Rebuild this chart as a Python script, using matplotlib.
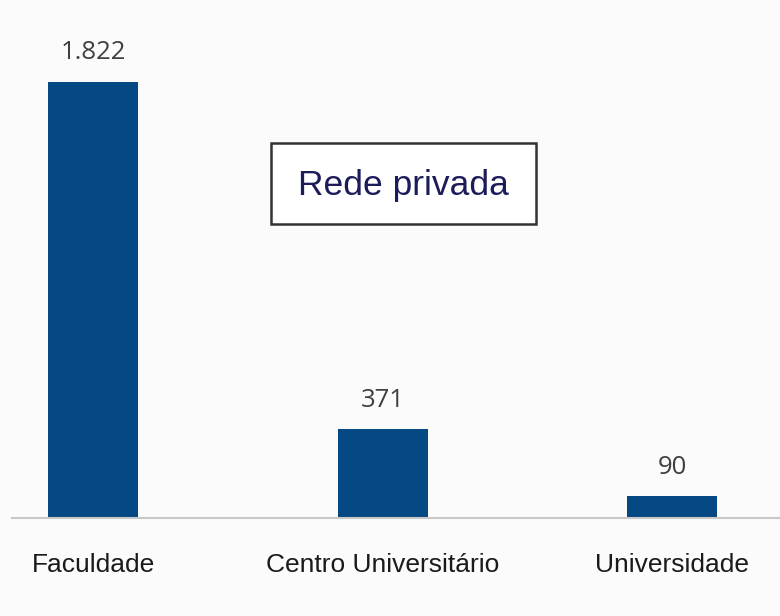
import matplotlib
matplotlib.use("Agg")
import matplotlib.pyplot as plt
from matplotlib.patches import Rectangle

# data
categories = ["Faculdade", "Centro Universitário", "Universidade"]
values = [1822, 371, 90]
value_labels = ["1.822", "371", "90"]
title = "Rede privada"

labelFont = ["Liberation Sans", "DejaVu Sans"]
barColor = "#044884"

fig = plt.figure(figsize=(7.8, 6.16), dpi=100, facecolor="#fbfbfb")
ax = fig.add_axes([12 / 780, 98 / 616, 768 / 780, 518 / 616])
ax.set_facecolor("none")

x = list(range(len(categories)))
ax.bar(x, values, width=0.311, color=barColor)

# value labels above bars
for xi, v, lab in zip(x, values, value_labels):
    ax.annotate(lab, (xi, v), xytext=(0, 21), textcoords="offset points",
                ha="center", va="center", fontsize=18.5, color="#404040",
                family=["Open Sans", "DejaVu Sans"])

ax.set_xlim(-0.28, 2.373)
ax.set_ylim(0, 2165)
ax.set_xticks(x)
ax.set_xticklabels(categories, family=labelFont, fontsize=19, color="#1a1a1a")
ax.tick_params(axis="x", length=0, pad=25)
ax.set_yticks([])
for s in ["top", "left", "right"]:
    ax.spines[s].set_visible(False)
ax.spines["bottom"].set_color("#c8c8c8")
ax.spines["bottom"].set_linewidth(1.5)

# title box
fig.patches.append(Rectangle((271 / 780, 1 - 224 / 616), 265 / 780, 81 / 616,
                             transform=fig.transFigure, facecolor="white",
                             edgecolor="#333333", linewidth=1.8, zorder=3))
fig.text(403.5 / 780, 1 - 186 / 616, title, ha="center", va="center",
         fontsize=25.5, color="#1c1c5a", family=labelFont, zorder=4)

fig.savefig("out.png", dpi=100, facecolor=fig.get_facecolor())
